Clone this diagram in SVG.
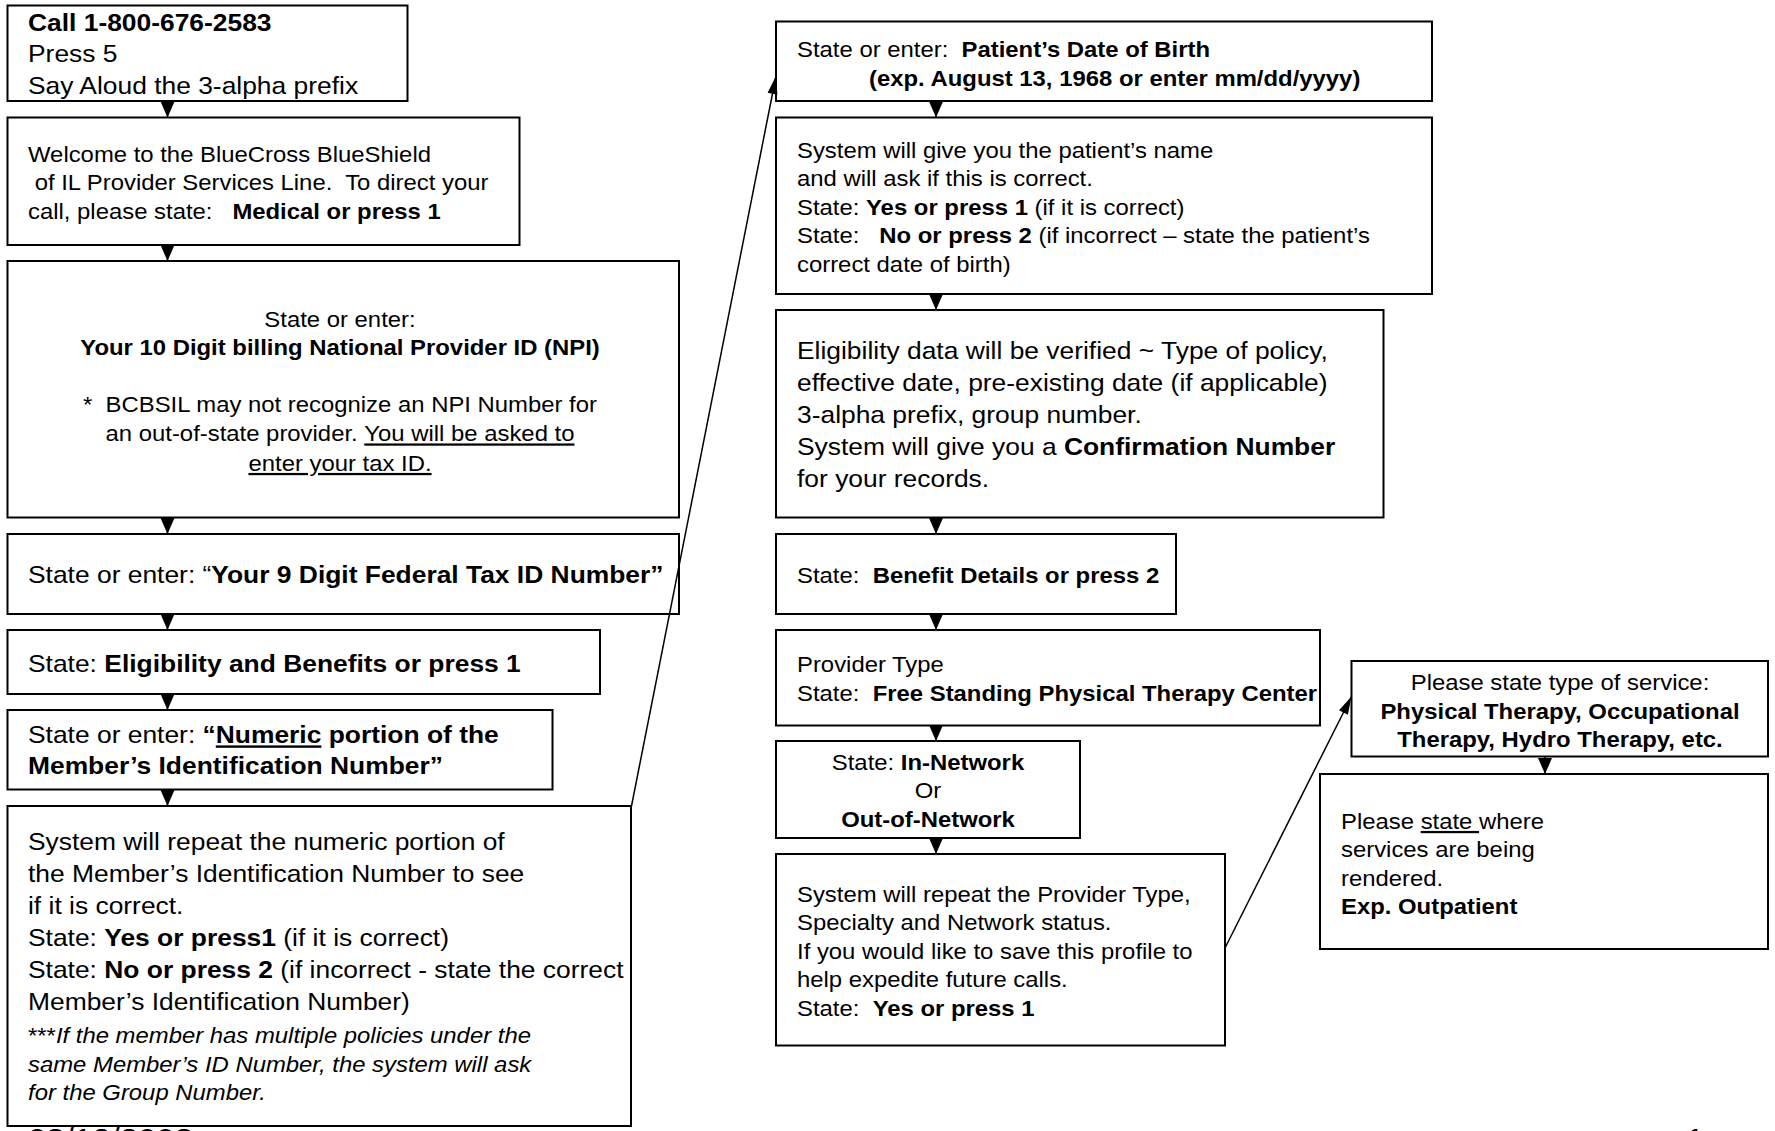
<svg xmlns="http://www.w3.org/2000/svg" width="1775" height="1131" viewBox="0 0 1775 1131">
<style>
.box{fill:#fff;stroke:#000;stroke-width:2}
text{font-family:"Liberation Sans",Arial,sans-serif;fill:#000}
.L{font-size:24px}
.S{font-size:22.5px}
.b{font-weight:bold}
.i{font-style:italic}
.u{text-decoration:underline}
.c{text-anchor:middle}
.conn{stroke:#000;stroke-width:1.5;fill:none}
.down{marker-end:url(#tri)}
.diag{marker-end:url(#slim)}
</style>
<defs>
<marker id="tri" markerUnits="userSpaceOnUse" markerWidth="16" markerHeight="14" refX="16" refY="7" orient="auto" overflow="visible"><path d="M0,0 L16,7 L0,14 z" fill="#000"/></marker>
<marker id="slim" markerUnits="userSpaceOnUse" markerWidth="18" markerHeight="10" refX="18" refY="5" orient="auto" overflow="visible"><path d="M0,0 L18,5 L0,10 z" fill="#000"/></marker>
</defs>
<rect width="1775" height="1131" fill="#fff"/>

<g id="n-call">
<rect class="box" x="7.5" y="5.5" width="400" height="95.5"/>
<text class="L" transform="translate(28 0) scale(1.1 1)"><tspan x="0" y="31" class="b">Call 1-800-676-2583</tspan><tspan x="0" y="62.5">Press 5</tspan><tspan x="0" y="94">Say Aloud the 3-alpha prefix</tspan></text>
</g>

<g id="n-welcome">
<rect class="box" x="7.5" y="117.5" width="512" height="127.5"/>
<text class="S" xml:space="preserve" transform="translate(28 0) scale(1.062 1)"><tspan x="0" y="162">Welcome to the BlueCross BlueShield</tspan><tspan x="0" y="190.5"> of IL Provider Services Line.  To direct your</tspan><tspan x="0" y="219">call, please state:   </tspan><tspan class="b">Medical or press 1</tspan></text>
</g>

<g id="n-npi">
<rect class="box" x="7.5" y="261" width="671.5" height="256.5"/>
<text class="S c" xml:space="preserve" transform="translate(340 0) scale(1.062 1)"><tspan x="0" y="327">State or enter:</tspan><tspan x="0" y="355.5" class="b">Your 10 Digit billing National Provider ID (NPI)</tspan><tspan x="0" y="412">*  BCBSIL may not recognize an NPI Number for</tspan><tspan x="0" y="441.5">an out-of-state provider. </tspan><tspan class="u">You will be asked to</tspan><tspan x="0" y="471" class="u">enter your tax ID.</tspan></text>
</g>

<g id="n-taxid">
<rect class="box" x="7.5" y="534" width="671.5" height="80"/>
<text class="L" transform="translate(28 0) scale(1.1 1)"><tspan x="0" y="583.5">State or enter: “</tspan><tspan class="b">Your 9 Digit Federal Tax ID Number”</tspan></text>
</g>

<g id="n-elig">
<rect class="box" x="7.5" y="630" width="592.5" height="64"/>
<text class="L" transform="translate(28 0) scale(1.1 1)"><tspan x="0" y="672">State: </tspan><tspan class="b">Eligibility and Benefits or press 1</tspan></text>
</g>

<g id="n-numeric">
<rect class="box" x="7.5" y="710" width="545" height="79.5"/>
<text class="L" transform="translate(28 0) scale(1.1 1)"><tspan x="0" y="743.5">State or enter: </tspan><tspan class="b">“</tspan><tspan class="b u">Numeric</tspan><tspan class="b"> portion of the</tspan><tspan x="0" y="774.5" class="b">Member’s Identification Number”</tspan></text>
</g>

<g id="n-repeat-member">
<rect class="box" x="7.5" y="806" width="623.5" height="320"/>
<text class="L" transform="translate(28 0) scale(1.1 1)"><tspan x="0" y="850.5">System will repeat the numeric portion of</tspan><tspan x="0" y="882.5">the Member’s Identification Number to see</tspan><tspan x="0" y="914.5">if it is correct.</tspan><tspan x="0" y="946.5">State: </tspan><tspan class="b">Yes or press1</tspan><tspan> (if it is correct)</tspan><tspan x="0" y="978.5">State: </tspan><tspan class="b">No or press 2</tspan><tspan> (if incorrect - state the correct</tspan><tspan x="0" y="1010.5">Member’s Identification Number)</tspan></text>
<text class="S" transform="translate(28 0) scale(1.062 1)"><tspan x="0" y="1043">***</tspan><tspan class="i">If the member has multiple policies under the</tspan><tspan x="0" y="1072" class="i">same Member’s ID Number, the system will ask</tspan><tspan x="0" y="1100" class="i">for the Group Number.</tspan></text>
</g>

<g id="n-dob">
<rect class="box" x="776" y="21.5" width="656" height="79.5"/>
<text class="S" xml:space="preserve" transform="translate(797 0) scale(1.062 1)"><tspan x="0" y="57.5">State or enter:  </tspan><tspan class="b">Patient’s Date of Birth</tspan></text>
<text class="S b" transform="translate(869 0) scale(1.062 1)"><tspan x="0" y="86">(exp. August 13, 1968 or enter mm/dd/yyyy)</tspan></text>
</g>

<g id="n-patient-name">
<rect class="box" x="776" y="117.5" width="656" height="176.5"/>
<text class="S" xml:space="preserve" transform="translate(797 0) scale(1.062 1)"><tspan x="0" y="158">System will give you the patient’s name</tspan><tspan x="0" y="186.5">and will ask if this is correct.</tspan><tspan x="0" y="215">State: </tspan><tspan class="b">Yes or press 1</tspan><tspan> (if it is correct)</tspan><tspan x="0" y="243.5">State:   </tspan><tspan class="b">No or press 2</tspan><tspan> (if incorrect – state the patient’s</tspan><tspan x="0" y="272">correct date of birth)</tspan></text>
</g>

<g id="n-elig-data">
<rect class="box" x="776" y="310" width="607.5" height="207.5"/>
<text class="L" transform="translate(797 0) scale(1.1 1)"><tspan x="0" y="359.5">Eligibility data will be verified ~ Type of policy,</tspan><tspan x="0" y="391.5">effective date, pre-existing date (if applicable)</tspan><tspan x="0" y="423.5">3-alpha prefix, group number.</tspan><tspan x="0" y="455.5">System will give you a </tspan><tspan class="b">Confirmation Number</tspan><tspan x="0" y="487.5">for your records.</tspan></text>
</g>

<g id="n-benefit">
<rect class="box" x="776" y="534" width="400" height="80"/>
<text class="S" xml:space="preserve" transform="translate(797 0) scale(1.062 1)"><tspan x="0" y="583">State:  </tspan><tspan class="b">Benefit Details or press 2</tspan></text>
</g>

<g id="n-provider-type">
<rect class="box" x="776" y="630" width="544" height="95.5"/>
<text class="S" xml:space="preserve" transform="translate(797 0) scale(1.062 1)"><tspan x="0" y="672">Provider Type</tspan><tspan x="0" y="701">State:  </tspan><tspan class="b">Free Standing Physical Therapy Center</tspan></text>
</g>

<g id="n-network">
<rect class="box" x="776" y="741" width="304" height="97"/>
<text class="S c" transform="translate(928 0) scale(1.062 1)"><tspan x="0" y="770.5">State: </tspan><tspan class="b">In-Network</tspan><tspan x="0" y="798.5">Or</tspan><tspan x="0" y="827" class="b">Out-of-Network</tspan></text>
</g>

<g id="n-repeat-provider">
<rect class="box" x="776" y="854" width="449" height="191.5"/>
<text class="S" xml:space="preserve" transform="translate(797 0) scale(1.062 1)"><tspan x="0" y="902">System will repeat the Provider Type,</tspan><tspan x="0" y="930.5">Specialty and Network status.</tspan><tspan x="0" y="959">If you would like to save this profile to</tspan><tspan x="0" y="987.5">help expedite future calls.</tspan><tspan x="0" y="1016">State:  </tspan><tspan class="b">Yes or press 1</tspan></text>
</g>

<g id="n-service-type">
<rect class="box" x="1351.5" y="661" width="416.5" height="95.5"/>
<text class="S c" transform="translate(1560 0) scale(1.062 1)"><tspan x="0" y="690.5">Please state type of service:</tspan><tspan x="0" y="719.5" class="b">Physical Therapy, Occupational</tspan><tspan x="0" y="747.5" class="b">Therapy, Hydro Therapy, etc.</tspan></text>
</g>

<g id="n-where">
<rect class="box" x="1320" y="774" width="448" height="175"/>
<text class="S" xml:space="preserve" transform="translate(1341 0) scale(1.062 1)"><tspan x="0" y="829">Please </tspan><tspan class="u">state </tspan><tspan>where</tspan><tspan x="0" y="857.5">services are being</tspan><tspan x="0" y="886">rendered.</tspan><tspan x="0" y="914.5" class="b">Exp. Outpatient</tspan></text>
</g>

<g id="connectors">
<line class="conn down" x1="167.5" y1="101" x2="167.5" y2="117.5"/>
<line class="conn down" x1="167.5" y1="245" x2="167.5" y2="261"/>
<line class="conn down" x1="167.5" y1="517.5" x2="167.5" y2="534"/>
<line class="conn down" x1="167.5" y1="614" x2="167.5" y2="630"/>
<line class="conn down" x1="167.5" y1="694" x2="167.5" y2="710"/>
<line class="conn down" x1="167.5" y1="789.5" x2="167.5" y2="806"/>
<line class="conn down" x1="936" y1="101" x2="936" y2="117.5"/>
<line class="conn down" x1="936" y1="294" x2="936" y2="310"/>
<line class="conn down" x1="936" y1="517.5" x2="936" y2="534"/>
<line class="conn down" x1="936" y1="614" x2="936" y2="630"/>
<line class="conn down" x1="936" y1="725.5" x2="936" y2="741"/>
<line class="conn down" x1="936" y1="838" x2="936" y2="854"/>
<line class="conn down" x1="1545" y1="756.5" x2="1545" y2="774"/>
<line class="conn diag" x1="631.5" y1="806" x2="776" y2="76"/>
<line class="conn diag" x1="1225" y1="948" x2="1351.5" y2="696.5"/>
</g>

<g id="footer">
<text class="L" style="font-size:30px" transform="translate(28 0) scale(1.1 1)"><tspan x="0" y="1149">08/12/2008</tspan></text>
<text class="L" style="font-size:30px" transform="translate(1686 0) scale(1.1 1)"><tspan x="0" y="1149">1</tspan></text>
</g>
</svg>
